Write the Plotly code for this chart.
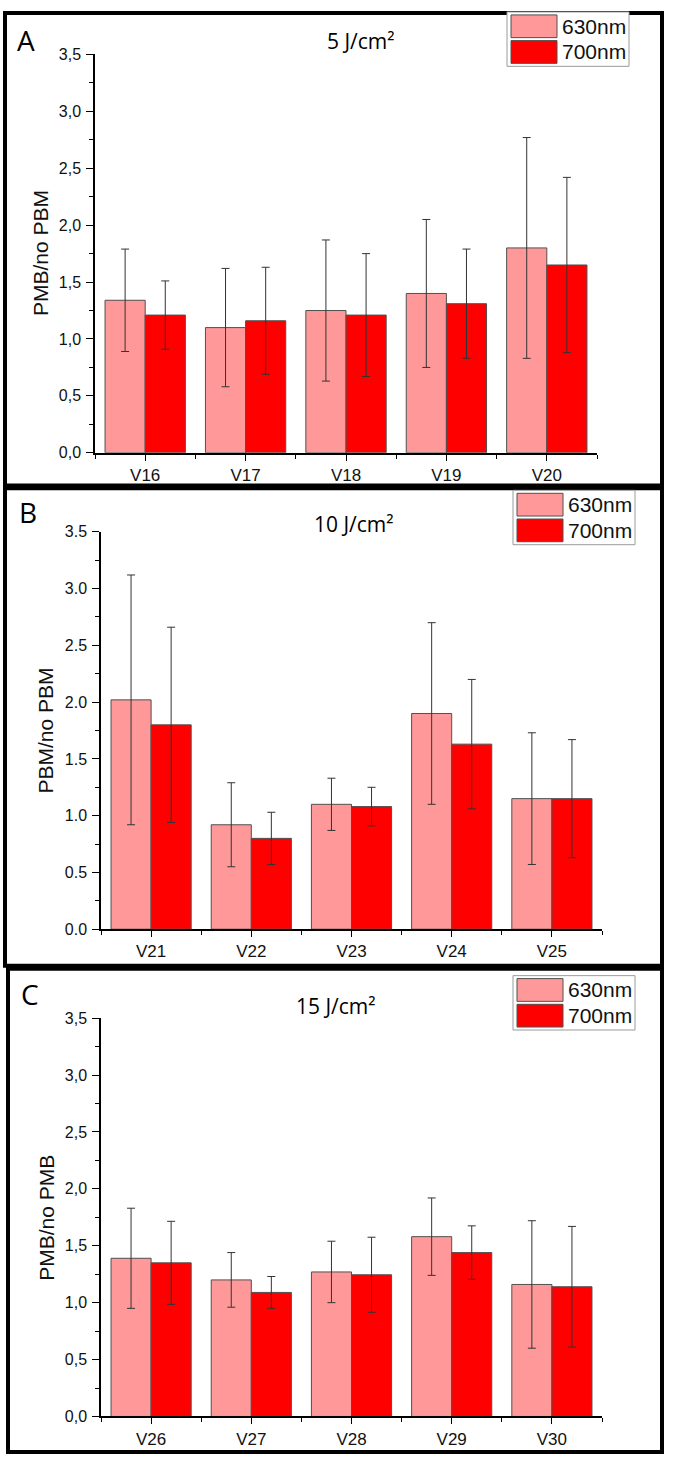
import plotly.graph_objects as go

W, H = 673, 1466

# ---------------- data ----------------
cats_A = ["V16", "V17", "V18", "V19", "V20"]
a630 = [1.34, 1.10, 1.25, 1.40, 1.80]
a630_err = [0.45, 0.52, 0.62, 0.65, 0.97]
a700 = [1.21, 1.16, 1.21, 1.31, 1.65]
a700_err = [0.30, 0.47, 0.54, 0.48, 0.77]

cats_B = ["V21", "V22", "V23", "V24", "V25"]
b630 = [2.02, 0.92, 1.10, 1.90, 1.15]
b630_err = [1.10, 0.37, 0.23, 0.80, 0.58]
b700 = [1.80, 0.80, 1.08, 1.63, 1.15]
b700_err = [0.86, 0.23, 0.17, 0.57, 0.52]

cats_C = ["V26", "V27", "V28", "V29", "V30"]
c630 = [1.39, 1.20, 1.27, 1.58, 1.16]
c630_err = [0.44, 0.24, 0.27, 0.34, 0.56]
c700 = [1.35, 1.09, 1.245, 1.44, 1.14]
c700_err = [0.365, 0.14, 0.33, 0.235, 0.53]

series_names = ["630nm", "700nm"]
yticks = [0, 0.5, 1.0, 1.5, 2.0, 2.5, 3.0, 3.5]
yticks_comma = ["0,0", "0,5", "1,0", "1,5", "2,0", "2,5", "3,0", "3,5"]
yticks_dot = ["0.0", "0.5", "1.0", "1.5", "2.0", "2.5", "3.0", "3.5"]
yminor = [0.25, 0.75, 1.25, 1.75, 2.25, 2.75, 3.25]
panel_letters = ["A", "B", "C"]
panel_titles = ["5 J/cm²", "10 J/cm²", "15 J/cm²"]
ytitles = ["PMB/no PBM", "PBM/no PBM", "PMB/no PMB"]

C630 = "#FF9999"
C700 = "#FF0000"
BAR_LINE = "#505050"
ERR = "#333333"
AXFONT = "Liberation Sans, Arial, sans-serif"
CAL = "Open Sans, Noto Sans, sans-serif"


def px(x):
    return x / W


def py(y):
    return 1 - y / H


# panel geometry in page pixels
panels = [
    dict(cats=cats_A, v1=a630, e1=a630_err, v2=a700, e2=a700_err,
         x0=95, x1=597, ytop=47, ybot=450, ticktext=yticks_comma,
         frame=(5, 5, 662, 483), letter=(15, 32), title=(361, 33),
         leg=(507, 4), ytl=(40, 248)),
    dict(cats=cats_B, v1=b630, e1=b630_err, v2=b700, e2=b700_err,
         x0=101, x1=602, ytop=530, ybot=932, ticktext=yticks_dot,
         frame=(5, 486, 662, 969), letter=(17, 510), title=(354, 522),
         leg=(513, 488), ytl=(46, 731)),
    dict(cats=cats_C, v1=c630, e1=c630_err, v2=c700, e2=c700_err,
         x0=101, x1=602, ytop=1022, ybot=1425, ticktext=yticks_comma,
         frame=(8, 972, 662, 1461), letter=(19, 998), title=(336, 1010),
         leg=(513, 979), ytl=(47, 1224)),
]

fig = go.Figure()
shapes = []
annotations = []

for i, p in enumerate(panels):
    k = "" if i == 0 else str(i + 1)
    xa, ya = "x" + k, "y" + k
    pos = list(range(len(p["cats"])))
    for vals, errs, col, name, og in [(p["v1"], p["e1"], C630, series_names[0], "a"),
                                      (p["v2"], p["e2"], C700, series_names[1], "b")]:
        fig.add_trace(go.Bar(
            x=pos, y=vals, name=name, xaxis=xa, yaxis=ya, offsetgroup=og,
            marker=dict(color=col, line=dict(color=BAR_LINE, width=1)),
            error_y=dict(type="data", array=errs, visible=True,
                         color=ERR, thickness=1, width=4),
            showlegend=False, hoverinfo="skip"))

    bounds = [q - 0.5 for q in pos] + [pos[-1] + 0.5]
    fig.layout["xaxis" + k] = dict(
        domain=[px(p["x0"]), px(p["x1"])], anchor=ya, range=[-0.5, len(pos) - 0.5],
        tickmode="array", tickvals=pos, ticktext=p["cats"],
        ticks="outside", ticklen=6, tickwidth=1.2, tickcolor="black",
        minor=dict(tickmode="array", tickvals=bounds, ticks="outside",
                   ticklen=4, tickwidth=1.2, tickcolor="black"),
        showline=True, linecolor="black", linewidth=1.5,
        showgrid=False, zeroline=False, fixedrange=True,
        tickfont=dict(family=AXFONT, size=17, color="#111"),
        ticklabelstandoff=0)
    fig.layout["yaxis" + k] = dict(
        domain=[py(p["ybot"]), py(p["ytop"])], anchor=xa, range=[0, 3.5],
        tickmode="array", tickvals=yticks, ticktext=p["ticktext"],
        ticks="outside", ticklen=7, tickwidth=1.2, tickcolor="black",
        minor=dict(tickmode="array", tickvals=yminor, ticks="outside",
                   ticklen=4, tickwidth=1.2, tickcolor="black"),
        showline=True, linecolor="black", linewidth=1.5,
        showgrid=False, zeroline=False, fixedrange=True,
        tickfont=dict(family=AXFONT, size=16, color="#111"),
        ticklabelstandoff=2)

    # panel frame
    fx0, fy0, fx1, fy1 = p["frame"]
    shapes.append(dict(type="rect", xref="paper", yref="paper",
                       x0=px(fx0), x1=px(fx1), y0=py(fy1), y1=py(fy0),
                       line=dict(color="black", width=4), layer="above"))

    # letter and title
    lx, ly = p["letter"]
    annotations.append(dict(text=panel_letters[i], xref="paper", yref="paper",
                            x=px(lx), y=py(ly), xanchor="left", yanchor="middle",
                            showarrow=False, font=dict(family=CAL, size=28, color="black")))
    tx, ty = p["title"]
    annotations.append(dict(text=panel_titles[i], xref="paper", yref="paper",
                            x=px(tx), y=py(ty), xanchor="center", yanchor="middle",
                            showarrow=False, font=dict(family=CAL, size=21, color="black")))
    # y title
    yx, yy = p["ytl"]
    annotations.append(dict(text=ytitles[i], xref="paper", yref="paper",
                            x=px(yx), y=py(yy), xanchor="center", yanchor="middle",
                            textangle=-90, showarrow=False,
                            font=dict(family=AXFONT, size=21, color="#111")))

    # legend (drawn box + swatches)
    gx, gy = p["leg"]
    shapes.append(dict(type="rect", xref="paper", yref="paper",
                       x0=px(gx), x1=px(gx + 122), y0=py(gy + 55), y1=py(gy),
                       line=dict(color="#9a9a9a", width=1), fillcolor="white",
                       layer="above"))
    for j, col in enumerate([C630, C700]):
        sy0 = gy + 3 + j * 26
        shapes.append(dict(type="rect", xref="paper", yref="paper",
                           x0=px(gx + 4), x1=px(gx + 50),
                           y0=py(sy0 + 23), y1=py(sy0),
                           line=dict(color=BAR_LINE, width=1), fillcolor=col,
                           layer="above"))
        annotations.append(dict(text=series_names[j], xref="paper", yref="paper",
                                x=px(gx + 53), y=py(sy0 + 11.5),
                                xanchor="left", yanchor="middle", showarrow=False,
                                font=dict(family=AXFONT, size=21, color="#111")))

fig.update_layout(
    width=W, height=H, margin=dict(l=0, r=0, t=0, b=0),
    paper_bgcolor="white", plot_bgcolor="white",
    barmode="group", bargap=0.2, bargroupgap=0,
    shapes=shapes, annotations=annotations, showlegend=False)

fig.write_html("out.html", config={"displayModeBar": False})
